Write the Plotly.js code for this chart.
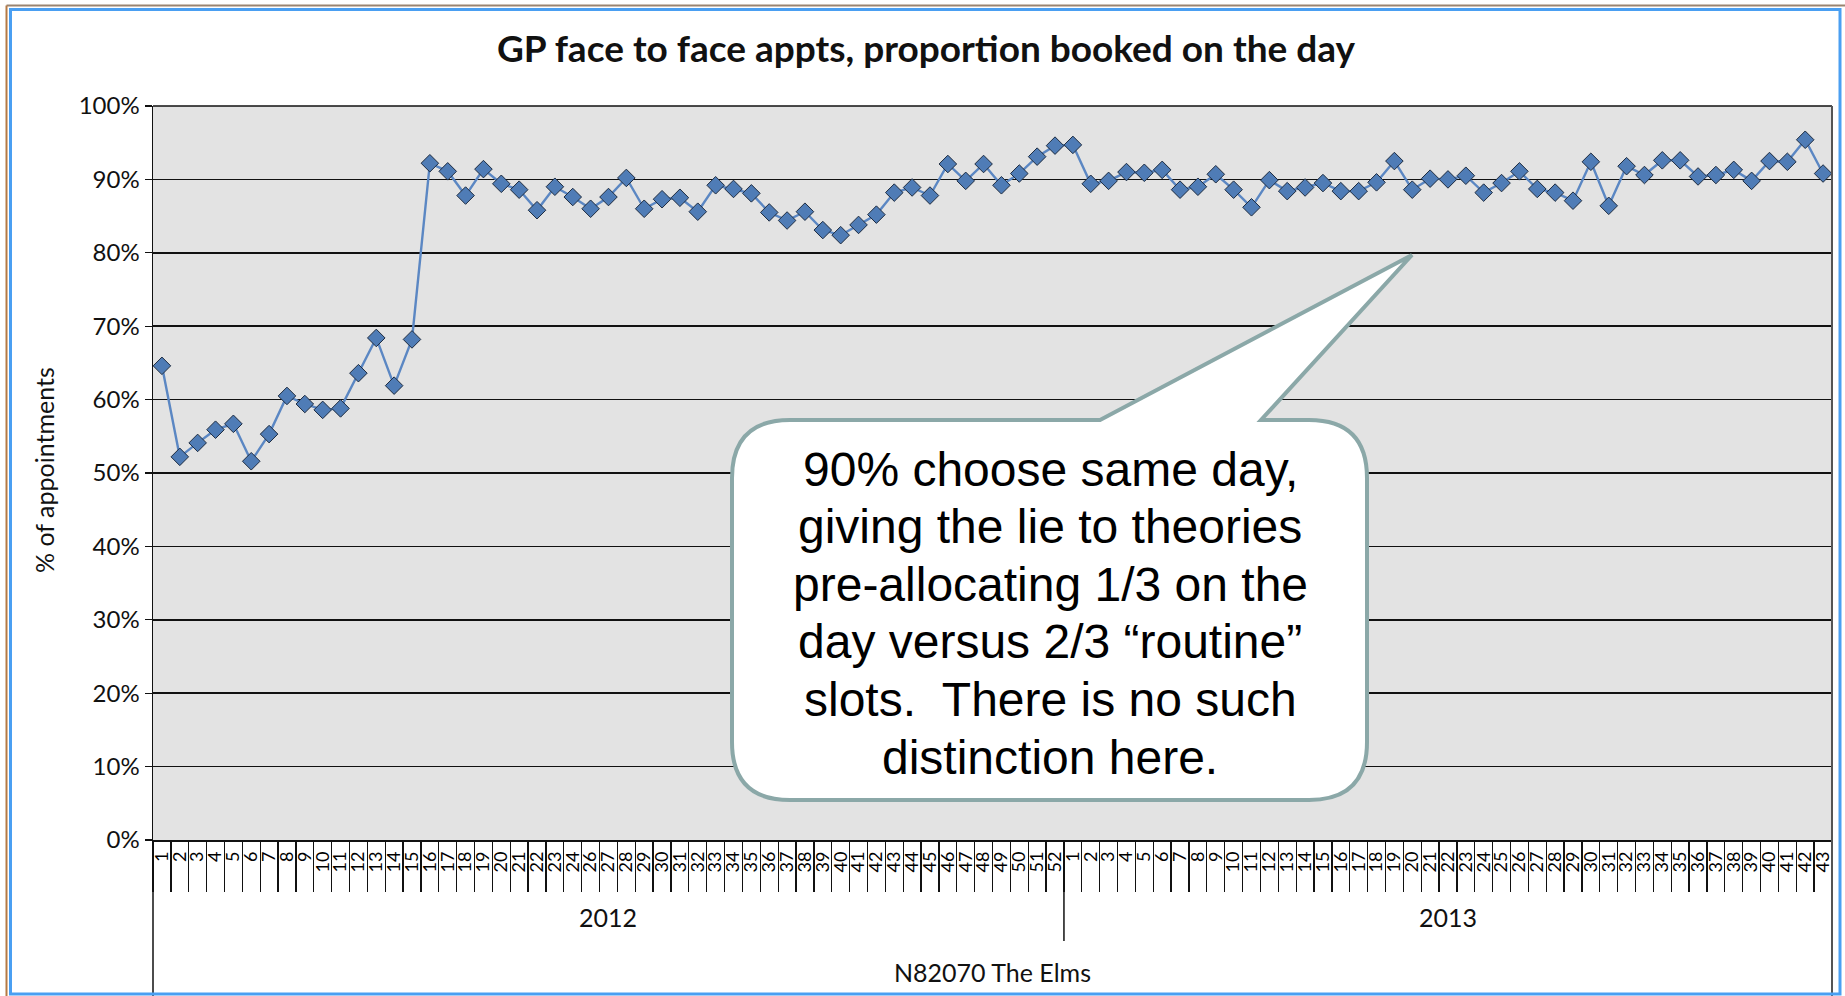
<!DOCTYPE html>
<html><head><meta charset="utf-8">
<script src="https://cdn.plot.ly/plotly-3.0.1.min.js"></script>
<style>html,body{margin:0;padding:0;background:#fff;overflow:hidden}#chart{width:1845px;height:996px}</style>
</head><body><div id="chart"></div>
<script>
// ---- data ----
const years = ["2012", "2013"];
const weeks2012 = [1,2,3,4,5,6,7,8,9,10,11,12,13,14,15,16,17,18,19,20,21,22,23,24,26,27,28,29,30,31,32,33,34,35,36,37,38,39,40,41,42,43,44,45,46,47,48,49,50,51,52];
const weeks2013 = [1,2,3,4,5,6,7,8,9,10,11,12,13,14,15,16,17,18,19,20,21,22,23,24,25,26,27,28,29,30,31,32,33,34,35,36,37,38,39,40,41,42,43];
const values2012 = [64.6,52.2,54.1,55.9,56.7,51.6,55.3,60.5,59.4,58.6,
                    58.8,63.6,68.4,61.9,68.2,92.2,91.1,87.8,91.4,89.4,
                    88.6,85.8,89.0,87.6,86.0,87.6,90.2,86.0,87.3,87.5,
                    85.6,89.2,88.7,88.1,85.5,84.4,85.6,83.1,82.4,83.8,
                    85.2,88.2,88.9,87.8,92.1,89.8,92.1,89.2,90.8,93.1,94.6];
const values2013 = [94.7,89.4,89.8,91.0,90.9,91.3,88.6,89.0,90.7,88.6,
                    86.2,89.9,88.4,88.9,89.5,88.4,88.4,89.6,92.5,88.6,
                    90.1,90.0,90.5,88.2,89.5,91.1,88.7,88.2,87.1,92.4,
                    86.4,91.8,90.6,92.6,92.6,90.4,90.6,91.3,89.8,92.5,
                    92.4,95.4,90.8];
const titleText = "GP face to face appts, proportion booked on the day";
const yTitle = "% of appointments";
const practice = "N82070 The Elms";
const calloutLines = ["90% choose same day,", "giving the lie to theories", "pre-allocating 1/3 on the",
                      "day versus 2/3 \u201croutine\u201d", "slots.  There is no such", "distinction here."];

// ---- build ----
const cats = weeks2012.map(w => years[0] + "-" + w).concat(weeks2013.map(w => years[1] + "-" + w));
const tickText = weeks2012.map(String).concat(weeks2013.map(String));
const vals = values2012.concat(values2013);
const n1 = weeks2012.length, n2 = weeks2013.length;

const W = 1845, H = 996, ML = 153, MR = 13, MT = 106, MB = 156;
const PW = W - ML - MR, PH = H - MT - MB;
const px = x => (x - ML) / PW;
const py = y => (H - MB - y) / PH;
const pt = (x, y) => px(x).toFixed(5) + "," + py(y).toFixed(5);

// callout path (pixel geometry -> paper)
const cl = 732, cr = 1367, ct = 420, cb = 800, rad = 58;
const callPath = "M" + pt(cl + rad, ct) + " L" + pt(1100, ct) + " L" + pt(1412, 255) + " L" + pt(1261, ct) +
  " L" + pt(cr - rad, ct) + " Q" + pt(cr, ct) + " " + pt(cr, ct + rad) +
  " L" + pt(cr, cb - rad) + " Q" + pt(cr, cb) + " " + pt(cr - rad, cb) +
  " L" + pt(cl + rad, cb) + " Q" + pt(cl, cb) + " " + pt(cl, cb - rad) +
  " L" + pt(cl, ct + rad) + " Q" + pt(cl, ct) + " " + pt(cl + rad, ct) + " Z";

const FONT = "Lato, 'Open Sans', sans-serif";

const trace = {
  type: "scatter", mode: "lines+markers",
  x: cats, y: vals,
  line: {color: "#5b87c3", width: 2.4},
  marker: {symbol: "diamond", size: 13.5, color: "#4f7cb6", line: {color: "#1e2c40", width: 1}},
  cliponaxis: false,
  hoverinfo: "x+y"
};
// carrier for the week tick labels (no visible marks)
const labelTrace = {
  type: "scatter", mode: "none", x: cats, y: vals, xaxis: "x2", yaxis: "y",
  hoverinfo: "skip", showlegend: false
};

const annotations = [
  {xref: "x", yref: "paper", x: (n1 - 1) / 2, y: py(917), text: years[0], showarrow: false, xanchor: "center", yanchor: "middle",
   font: {family: FONT, size: 25, color: "#111"}},
  {xref: "x", yref: "paper", x: n1 + (n2 - 1) / 2, y: py(917), text: years[1], showarrow: false, xanchor: "center", yanchor: "middle",
   font: {family: FONT, size: 25, color: "#111"}},
  {xref: "paper", yref: "paper", x: px(992), y: py(972), text: practice, showarrow: false, xanchor: "center", yanchor: "middle",
   font: {family: FONT, size: 25, color: "#111"}},
  {xref: "paper", yref: "paper", x: px(44), y: py(470), text: yTitle, textangle: -90, showarrow: false, xanchor: "center", yanchor: "middle",
   font: {family: FONT, size: 25, color: "#111"}}
];
calloutLines.forEach((t, i) => {
  annotations.push({xref: "paper", yref: "paper", x: px(1050), y: py(469 + i * 57.6), text: t, showarrow: false,
    xanchor: "center", yanchor: "middle", font: {family: "'Liberation Sans', Arial, sans-serif", size: 48, color: "#000"}});
});

const layout = {
  width: W, height: H,
  margin: {l: ML, r: MR, t: MT, b: MB, pad: 0},
  paper_bgcolor: "#ffffff",
  plot_bgcolor: "#e3e3e3",
  showlegend: false,
  title: {text: "<b>" + titleText + "</b>", x: 926 / W, xanchor: "center", y: 1 - 49 / H, yanchor: "middle",
          font: {family: FONT, size: 37, color: "#111"}},
  xaxis: {
    type: "category", categoryorder: "array", categoryarray: cats,
    range: [-0.5, cats.length - 0.5],
    tickson: "boundaries", ticks: "outside", ticklen: 50, tickwidth: 1.3, tickcolor: "#111",
    showticklabels: false,
    showline: true, linecolor: "#111", linewidth: 1.5,
    showgrid: false, zeroline: false, fixedrange: true
  },
  xaxis2: {
    overlaying: "x", anchor: "y", side: "bottom",
    type: "category", categoryorder: "array", categoryarray: cats,
    range: [-0.5, cats.length - 0.5],
    tickmode: "array", tickvals: cats, ticktext: tickText,
    ticks: "", tickangle: -90, ticklabelstandoff: 7,
    tickfont: {family: FONT, size: 18, color: "#000"},
    showline: false, showgrid: false, zeroline: false, fixedrange: true
  },
  yaxis: {
    range: [0, 100], tick0: 0, dtick: 10, ticksuffix: "%",
    ticks: "outside", ticklen: 7, tickwidth: 1.3, tickcolor: "#111",
    showgrid: true, gridcolor: "#111", gridwidth: 1.5,
    showline: true, linecolor: "#111", linewidth: 1.5,
    zeroline: false, fixedrange: true,
    tickfont: {family: FONT, size: 24, color: "#111"}
  },
  shapes: [
    {type: "line", xref: "paper", yref: "paper", x0: 0, x1: 1, y0: 1, y1: 1, line: {color: "#111", width: 1.5}},
    {type: "line", xref: "paper", yref: "paper", x0: 0, x1: 0, y0: py(996), y1: 0, line: {color: "#111", width: 1.5}},
    {type: "line", xref: "paper", yref: "paper", x0: 1, x1: 1, y0: py(996), y1: 1, line: {color: "#555", width: 2}},
    {type: "line", xref: "x", yref: "paper", x0: n1 - 0.5, x1: n1 - 0.5, y0: py(941), y1: 0, line: {color: "#111", width: 1.5}},
    {type: "rect", xref: "paper", yref: "paper", x0: px(10.5), x1: px(1840), y0: py(9.5), y1: py(994), line: {color: "#4a9ff2", width: 3}},
    {type: "line", xref: "paper", yref: "paper", x0: px(6.5), x1: px(1845), y0: py(5.5), y1: py(5.5), line: {color: "#9a8470", width: 2}},
    {type: "line", xref: "paper", yref: "paper", x0: px(6.5), x1: px(6.5), y0: py(5.5), y1: py(996), line: {color: "#b57a45", width: 2}},
    {type: "path", xref: "paper", yref: "paper", path: callPath, fillcolor: "#ffffff", line: {color: "#8ba8a8", width: 4}, layer: "above"}
  ],
  annotations: annotations
};

Plotly.newPlot("chart", [trace, labelTrace], layout, {displayModeBar: false, staticPlot: true});
</script>
</body></html>
